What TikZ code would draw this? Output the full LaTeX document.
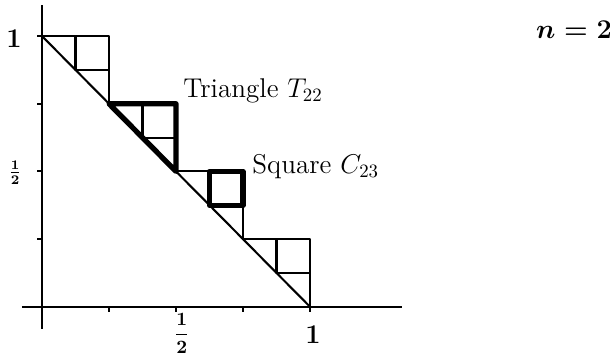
\documentclass[tikz,border=0pt]{standalone}
\usepackage{amsmath}
\usepackage{amssymb}
\usepackage{tikz}
\tikzset{stair/.style = {line width = 1.1pt, line join = round}}
\tikzset{heavy/.style = {line width = 2.8pt, line join = round}}
\tikzset{axis/.style = {line width = 1.1pt}}
\tikzset{lbl/.style = {inner sep = 0pt, font = \Large}}

\begin{document}
\begin{tikzpicture}[x = 5cm, y = 5.05cm]
			\useasboundingbox (-0.1567, -0.185) rectangle (2.1194, 1.1333);

			% axes
			\coordinate (xs) at (-0.075, 0);
			\coordinate (xe) at (1.343, 0);
			\coordinate (ys) at (0, -0.081);
			\coordinate (ye) at (0, 1.115);
			\draw[axis] (xs) -- (xe);
			\draw[axis] (ys) -- (ye);

			\draw[axis] (0.25, 0) -- (0.25, -0.018);
			\draw[axis] (0.5, 0) -- (0.5, -0.018);
			\draw[axis] (0.75, 0) -- (0.75, -0.018);
			\draw[axis] (1, 0) -- (1, -0.018);
			\draw[axis] (0, 0.25) -- (-0.018, 0.25);
			\draw[axis] (0, 0.5) -- (-0.018, 0.5);
			\draw[axis] (0, 0.75) -- (-0.018, 0.75);
			\draw[axis] (0, 1) -- (-0.018, 1);

			% diagonal
			\coordinate (top) at (0, 1);
			\coordinate (bot) at (1, 0);
			\draw[stair] (top) -- (bot);

			% steps
			\draw[stair] (0, 1) -- (0.25, 1) -- (0.25, 0.75);
			\draw[stair] (0.125, 1) -- (0.125, 0.875) -- (0.25, 0.875);
			\draw[stair] (0.25, 0.75) -- (0.5, 0.75) -- (0.5, 0.5);
			\draw[stair] (0.375, 0.75) -- (0.375, 0.625) -- (0.5, 0.625);
			\draw[stair] (0.5, 0.5) -- (0.75, 0.5) -- (0.75, 0.25);
			\draw[stair] (0.625, 0.5) -- (0.625, 0.375) -- (0.75, 0.375);
			\draw[stair] (0.75, 0.25) -- (1, 0.25) -- (1, 0);
			\draw[stair] (0.875, 0.25) -- (0.875, 0.125) -- (1, 0.125);

			% triangle T22 and square C23
			\draw[heavy] (0.25, 0.75) -- (0.5, 0.75) -- (0.5, 0.5) -- cycle;
			\draw[heavy] (0.625, 0.375) rectangle (0.75, 0.5);

			% labels
			\node[lbl, font = \Large] (y1) at (-0.104, 0.989) {$\mathbf{1}$};
			\node[lbl, font = \normalsize] (yh) at (-0.100, 0.496) {$\boldsymbol{\tfrac{1}{2}}$};
			\node[lbl, font = \normalsize] (xh) at (0.522, -0.098) {$\boldsymbol{\dfrac{1}{2}}$};
			\node[lbl, font = \Large] (x1) at (1.011, -0.105) {$\mathbf{1}$};
			\node[lbl, anchor = base west] (tri) at (0.526, 0.774) {Triangle $T_{22}$};
			\node[lbl, anchor = base west] (sq) at (0.784, 0.493) {Square $C_{23}$};
			\node[lbl, font = \Large\boldmath] (n) at (1.985, 1.022) {$n=2$};
		\end{tikzpicture}
\end{document}
